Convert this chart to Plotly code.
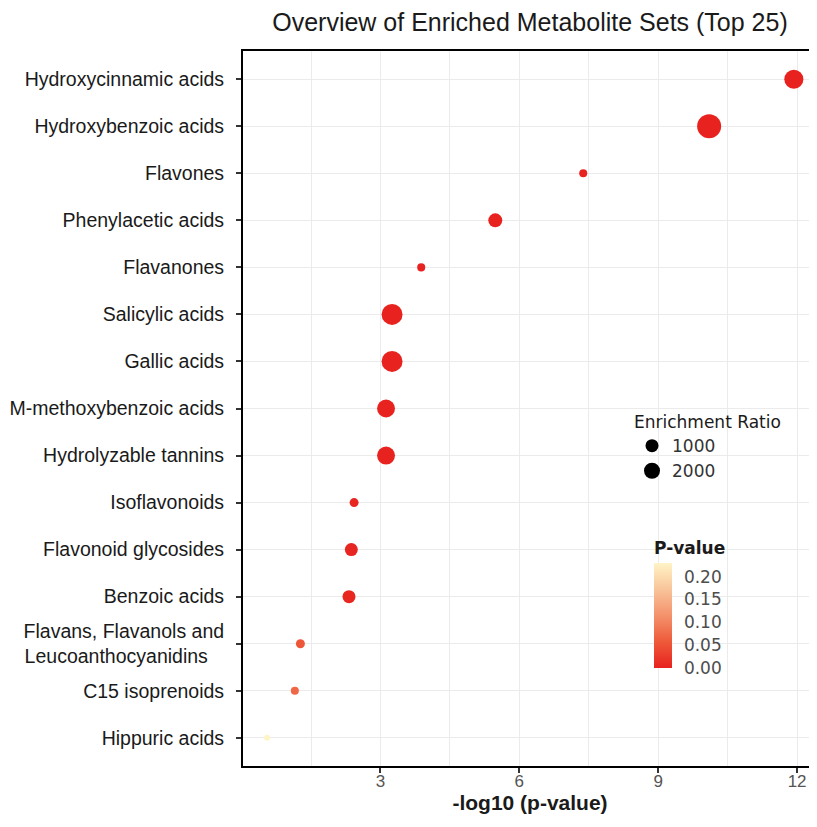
import numpy as np
import plotly.graph_objects as go

# ---------------- data ----------------
categories = [
    "Hydroxycinnamic acids",
    "Hydroxybenzoic acids",
    "Flavones",
    "Phenylacetic acids",
    "Flavanones",
    "Salicylic acids",
    "Gallic acids",
    "M-methoxybenzoic acids",
    "Hydrolyzable tannins",
    "Isoflavonoids",
    "Flavonoid glycosides",
    "Benzoic acids",
    "Flavans, Flavanols and<br>Leucoanthocyanidins&nbsp;&nbsp;&nbsp;",
    "C15 isoprenoids",
    "Hippuric acids",
]
neg_log10_p = [11.93, 10.1, 7.38, 5.48, 3.88, 3.25, 3.25, 3.12, 3.12, 2.43, 2.37, 2.32, 1.27, 1.15, 0.55]
enrichment_ratio = [2150, 3400, 380, 1160, 380, 2600, 2600, 1900, 1900, 480, 1000, 1000, 480, 380, 210]
size_legend_values = [1000, 2000]
pvalue_ticks = [0.00, 0.05, 0.10, 0.15, 0.20]

# ---------------- scales ----------------
p_values = [10 ** (-v) for v in neg_log10_p]
SIZEREF = 11.83  # area-proportional size scale


def diameter(v):
    return 2 * np.sqrt(v / (2 * SIZEREF))


colorscale = [
    [0.0, "#E8221F"],
    [0.25, "#EE5A3A"],
    [0.5, "#F4926C"],
    [0.75, "#F9C49A"],
    [1.0, "#FFF4C6"],
]

# page has an 8px body margin; figure is sized so it ends at the window edge
OFF = 8
W, H = 817 - OFF, 827 - OFF
L, R, T, B = 243 - OFF, 0, 51 - OFF, 827 - 766
PW, PH = W - L - R, H - T - B


def px_x(px):
    return (px - OFF - L) / PW


def px_y(py):
    return (H - B - (py - OFF)) / PH


fig = go.Figure()

fig.add_trace(go.Scatter(
    x=neg_log10_p,
    y=categories,
    mode="markers",
    showlegend=False,
    marker=dict(
        size=enrichment_ratio,
        sizemode="area",
        sizeref=SIZEREF,
        color=p_values,
        colorscale=colorscale,
        cmin=0,
        cmax=0.23,
        opacity=1,
        line=dict(width=0),
        colorbar=dict(
            title=dict(text="<b>P-value</b>", side="top",
                       font=dict(family="DejaVu Sans", size=17, color="#1a1a1a")),
            thickness=18,
            len=130,
            lenmode="pixels",
            x=px_x(654),
            xanchor="left",
            y=px_y(668),
            yanchor="bottom",
            tickvals=pvalue_ticks,
            tickformat=".2f",
            ticks="outside",
            ticklen=9,
            tickcolor="rgba(0,0,0,0)",
            outlinewidth=0,
            xpad=0,
            ypad=0,
            tickfont=dict(family="DejaVu Sans", size=17, color="#4d4d4d"),
        ),
    ),
))

for v in size_legend_values:
    fig.add_trace(go.Scatter(
        x=[None], y=[None], mode="markers", name=str(v),
        marker=dict(color="black", size=diameter(v), sizemode="diameter"),
        showlegend=True,
    ))

fig.update_layout(
    width=W, height=H,
    margin=dict(l=L, r=R, t=T, b=B, autoexpand=False),
    paper_bgcolor="white",
    plot_bgcolor="white",
    title=dict(
        text="Overview of Enriched Metabolite Sets (Top 25)",
        x=0.5, xref="paper", xanchor="center",
        y=1 - (22 - OFF) / H, yref="container", yanchor="middle",
        font=dict(family="Liberation Sans", size=25, color="#1a1a1a"),
    ),
    legend=dict(
        x=px_x(632), y=px_y(406), xanchor="left", yanchor="top",
        bgcolor="rgba(0,0,0,0)",
        title=dict(text="Enrichment Ratio",
                   font=dict(family="DejaVu Sans", size=17, color="#1a1a1a")),
        font=dict(family="DejaVu Sans", size=17, color="#333333"),
        itemsizing="trace",
        itemwidth=30,
        tracegroupgap=0,
    ),
    xaxis=dict(
        range=[0.03, 12.43],
        tick0=0, dtick=3,
        ticks="outside", ticklen=5, tickwidth=1.5, tickcolor="#333333",
        ticklabelstandoff=-6,
        showline=True, linewidth=2, linecolor="black", mirror=True,
        showgrid=True, gridcolor="#EBEBEB", gridwidth=1,
        minor=dict(dtick=1.5, showgrid=True, gridcolor="#EBEBEB", gridwidth=1),
        zeroline=False,
        automargin=False,
        tickfont=dict(family="Liberation Sans", size=17, color="#555555"),
        title=dict(text="<b>-log10 (p-value)</b>", standoff=4,
                   font=dict(family="Liberation Sans", size=21, color="#1a1a1a")),
    ),
    yaxis=dict(
        type="category",
        categoryorder="array",
        categoryarray=categories[::-1],
        range=[-0.6, len(categories) - 0.4],
        ticks="outside", ticklen=5, tickwidth=1.5, tickcolor="#333333",
        ticklabelstandoff=8,
        showline=True, linewidth=2, linecolor="black",
        showgrid=True, gridcolor="#EBEBEB", gridwidth=1,
        zeroline=False,
        automargin=False,
        tickfont=dict(family="Liberation Sans", size=19.5, color="#1a1a1a"),
    ),
)

fig.write_html("out.html")
